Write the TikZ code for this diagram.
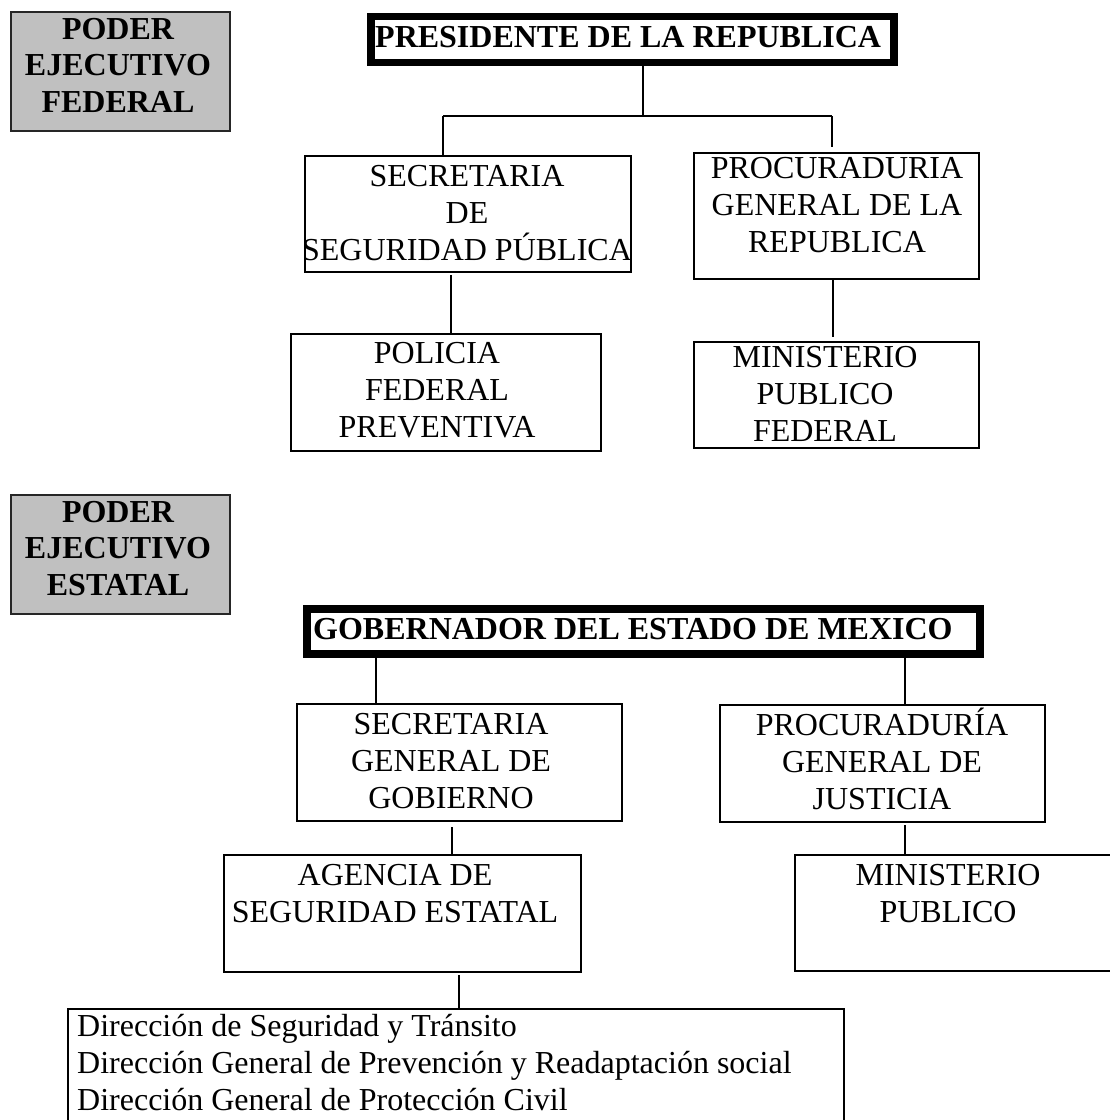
\documentclass[tikz,border=0pt]{standalone}
\usepackage{fontspec}
\setmainfont{Liberation Serif}
\definecolor{greyfill}{RGB}{192,192,192}
\begin{document}
\begin{tikzpicture}[x=1pt,y=-1pt,
  box/.style={draw=black, line width=1.4pt, rectangle, inner sep=0pt, outer sep=0pt, anchor=north west},
  headbox/.style={box, line width=7.5pt},
  greybox/.style={box, fill=greyfill, draw=black!85, line width=1.4pt},
  conn/.style={draw=black, line width=1.4pt},
  txt/.style={inner sep=0pt, anchor=base, font=\fontsize{32}{37}\selectfont},
  btxt/.style={txt, font=\fontsize{32}{37}\selectfont\bfseries},
  ltxt/.style={txt, anchor=base west}]
\useasboundingbox (0,0) rectangle (1110,1120);
\fill[white] (0,0) rectangle (1110,1120);
\clip (0,0) rectangle (1110,1120);

% ---------- federal ----------
\node[greybox, minimum width=219pt, minimum height=119pt] (gf) at (11,12) {};
\node[btxt] (gf1) at (118,39) {PODER};
\node[btxt] (gf2) at (118,75) {EJECUTIVO};
\node[btxt] (gf3) at (118,112) {FEDERAL};

\node[headbox, minimum width=523pt, minimum height=46pt] (pres) at (371,16.5) {};
\node[btxt, anchor=base west] (prest) at (375,47) {PRESIDENTE DE LA REPUBLICA};

\node[box, minimum width=326pt, minimum height=116pt] (secA) at (305,156) {};
\node[txt] (secA1) at (467,186) {SECRETARIA};
\node[txt] (secA2) at (467,223) {DE};
\node[txt] (secA3) at (467,260) {SEGURIDAD PÚBLICA};

\node[box, minimum width=310pt, minimum height=117pt] (polA) at (291,334) {};
\node[txt] (polA1) at (437,363) {POLICIA};
\node[txt] (polA2) at (437,400) {FEDERAL};
\node[txt] (polA3) at (437,437) {PREVENTIVA};

\node[box, minimum width=285pt, minimum height=126pt] (procA) at (694,153) {};
\node[txt] (procA1) at (837,178) {PROCURADURIA};
\node[txt] (procA2) at (837,215) {GENERAL DE LA};
\node[txt] (procA3) at (837,252) {REPUBLICA};

\node[box, minimum width=285pt, minimum height=106pt] (minA) at (694,342) {};
\node[txt] (minA1) at (825,367) {MINISTERIO};
\node[txt] (minA2) at (825,404) {PUBLICO};
\node[txt] (minA3) at (825,441) {FEDERAL};

\coordinate (j1) at (643,116);
\coordinate (jl) at (443,116);
\coordinate (jr) at (832,116);
\coordinate (jre) at (832,147);
\coordinate (g1) at (451,275);
\coordinate (g2) at (833,277);
\coordinate (g2e) at (833,337);

\draw[conn] (pres.south -| j1) -- (j1);
\draw[conn] (jl) -- (jr);
\draw[conn] (jl) -- (secA.north -| jl);
\draw[conn] (jr) -- (jre);
\draw[conn] (g1) -- (polA.north -| g1);
\draw[conn] (procA.south -| g2) -- (g2e);

% ---------- estatal ----------
\node[greybox, minimum width=219pt, minimum height=119pt] (ge) at (11,495) {};
\node[btxt] (ge1) at (118,522) {PODER};
\node[btxt] (ge2) at (118,558) {EJECUTIVO};
\node[btxt] (ge3) at (118,595) {ESTATAL};

\node[headbox, minimum width=673pt, minimum height=45pt] (gob) at (307,609) {};
\node[btxt, anchor=base west] (gobt) at (313,639) {GOBERNADOR DEL ESTADO DE MEXICO};

\node[box, minimum width=325pt, minimum height=117pt] (secG) at (297,704) {};
\node[txt] (secG1) at (451,734) {SECRETARIA};
\node[txt] (secG2) at (451,771) {GENERAL DE};
\node[txt] (secG3) at (451,808) {GOBIERNO};

\node[box, minimum width=325pt, minimum height=117pt] (procJ) at (720,705) {};
\node[txt] (procJ1) at (882,735) {PROCURADURÍA};
\node[txt] (procJ2) at (882,772) {GENERAL DE};
\node[txt] (procJ3) at (882,809) {JUSTICIA};

\node[box, minimum width=357pt, minimum height=117pt] (agen) at (224,855) {};
\node[txt] (agen1) at (395,885) {AGENCIA DE};
\node[txt] (agen2) at (395,922) {SEGURIDAD ESTATAL};

\node[box, minimum width=330pt, minimum height=116pt] (minP) at (795,855) {};
\node[txt] (minP1) at (948,885) {MINISTERIO};
\node[txt] (minP2) at (948,922) {PUBLICO};

\node[box, minimum width=776pt, minimum height=130pt] (list) at (68,1009) {};
\node[ltxt] (list1) at (77,1036) {Dirección de Seguridad y Tránsito};
\node[ltxt] (list2) at (77,1073) {Dirección General de Prevención y Readaptación social};
\node[ltxt] (list3) at (77,1110) {Dirección General de Protección Civil};

\coordinate (c1) at (376,0);
\coordinate (c2) at (905,0);
\coordinate (g3) at (452,827);
\coordinate (g4) at (905,825);
\coordinate (g5) at (459,975);

\draw[conn] (gob.south -| c1) -- (secG.north -| c1);
\draw[conn] (gob.south -| c2) -- (procJ.north -| c2);
\draw[conn] (g3) -- (agen.north -| g3);
\draw[conn] (g4) -- (minP.north -| g4);
\draw[conn] (g5) -- (list.north -| g5);
\end{tikzpicture}
\end{document}
